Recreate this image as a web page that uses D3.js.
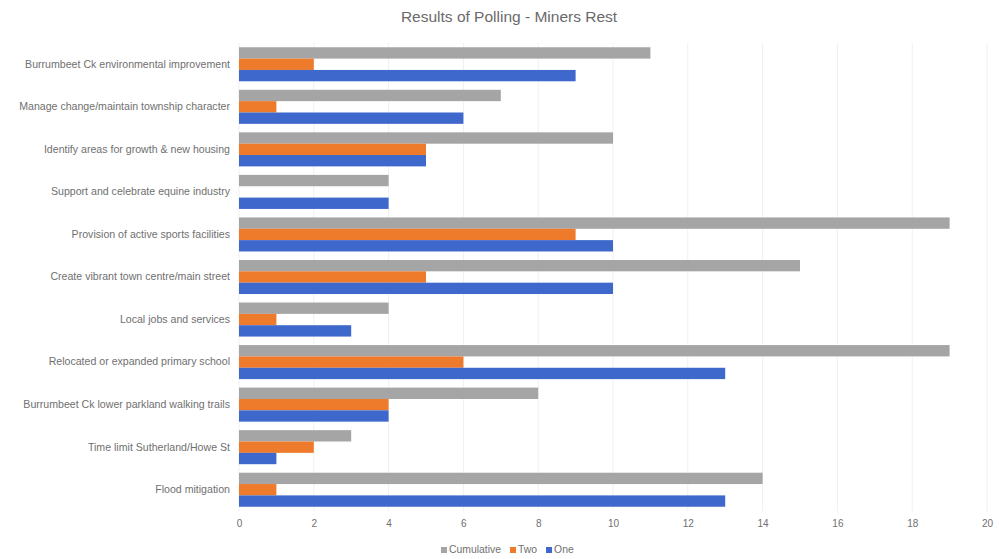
<!DOCTYPE html>
<html>
<head>
<meta charset="utf-8">
<script src="https://cdn.jsdelivr.net/npm/d3@7"></script>
<style>
  html, body { margin: 0; padding: 0; background: #fff; }
  svg { display: block; }
</style>
</head>
<body>
<svg id="chart" width="999" height="559"></svg>
<script>
const categories = [
  "Burrumbeet Ck environmental improvement",
  "Manage change/maintain township character",
  "Identify areas for growth & new housing",
  "Support and celebrate equine industry",
  "Provision of active sports facilities",
  "Create vibrant town centre/main street",
  "Local jobs and services",
  "Relocated or expanded primary school",
  "Burrumbeet Ck lower parkland walking trails",
  "Time limit Sutherland/Howe St",
  "Flood mitigation"
];
const seriesNames = ["Cumulative", "Two", "One"];
const cumulative = [11, 7, 10, 4, 19, 15, 4, 19, 8, 3, 14];
const two        = [2, 1, 5, 0, 9, 5, 1, 6, 4, 2, 1];
const one        = [9, 6, 5, 4, 10, 10, 3, 13, 4, 1, 13];
const xTicks = [0, 2, 4, 6, 8, 10, 12, 14, 16, 18, 20];
const colors = { Cumulative: "#A5A5A5", Two: "#EE7A2C", One: "#3E68CC" };
const title = "Results of Polling - Miners Rest";

const values = { Cumulative: cumulative, Two: two, One: one };
const svg = d3.select("#chart");
const font = "'Liberation Sans', Arial, sans-serif";

const x = d3.scaleLinear().domain([0, 20]).range([239, 987]);
const y = d3.scaleBand().domain(categories).range([43, 511])
  .paddingInner(0.2).paddingOuter(0.1);
const ys = d3.scaleBand().domain(seriesNames).range([0, y.bandwidth()]);

// gridlines
svg.append("g").selectAll("line").data(xTicks).join("line")
  .attr("x1", d => x(d)).attr("x2", d => x(d))
  .attr("y1", 43).attr("y2", 511)
  .attr("stroke", "#f0f0f0").attr("stroke-width", 1);

// bars
const groups = svg.append("g").selectAll("g").data(categories).join("g")
  .attr("transform", c => `translate(0,${y(c)})`);
groups.selectAll("rect")
  .data((c, i) => seriesNames.map(s => ({ s, v: values[s][i] })))
  .join("rect")
  .attr("x", x(0))
  .attr("y", d => ys(d.s))
  .attr("width", d => x(d.v) - x(0))
  .attr("height", ys.bandwidth())
  .attr("fill", d => colors[d.s]);

// y axis labels
const yAxis = d3.axisLeft(y).tickSize(0).tickPadding(9);
const yg = svg.append("g").attr("transform", `translate(${x(0)},0)`).call(yAxis);
yg.select(".domain").remove();
yg.selectAll("text").attr("font-family", font).attr("font-size", 10.6).attr("fill", "#707070");

// x axis labels
const xAxis = d3.axisBottom(x).tickValues(xTicks).tickSize(0).tickPadding(7);
const xg = svg.append("g").attr("transform", `translate(0,513)`).call(xAxis);
xg.select(".domain").remove();
xg.selectAll("text").attr("font-family", font).attr("font-size", 10).attr("fill", "#707070");

// title
svg.append("text").attr("x", 509).attr("y", 22).attr("text-anchor", "middle")
  .attr("font-family", font).attr("font-size", 15.5).attr("fill", "#6a6a6a")
  .text(title);

// legend
const legend = svg.append("g").attr("transform", "translate(441,553)");
let lx = 0;
seriesNames.forEach(s => {
  const g = legend.append("g").attr("transform", `translate(${lx},0)`);
  g.append("rect").attr("x", 0).attr("y", -6).attr("width", 6).attr("height", 6).attr("fill", colors[s]);
  const t = g.append("text").attr("x", 8).attr("y", 0).attr("font-family", font)
    .attr("font-size", 10.4).attr("fill", "#707070").text(s);
  lx += 8 + t.node().getComputedTextLength() + 9;
});
</script>
</body>
</html>
